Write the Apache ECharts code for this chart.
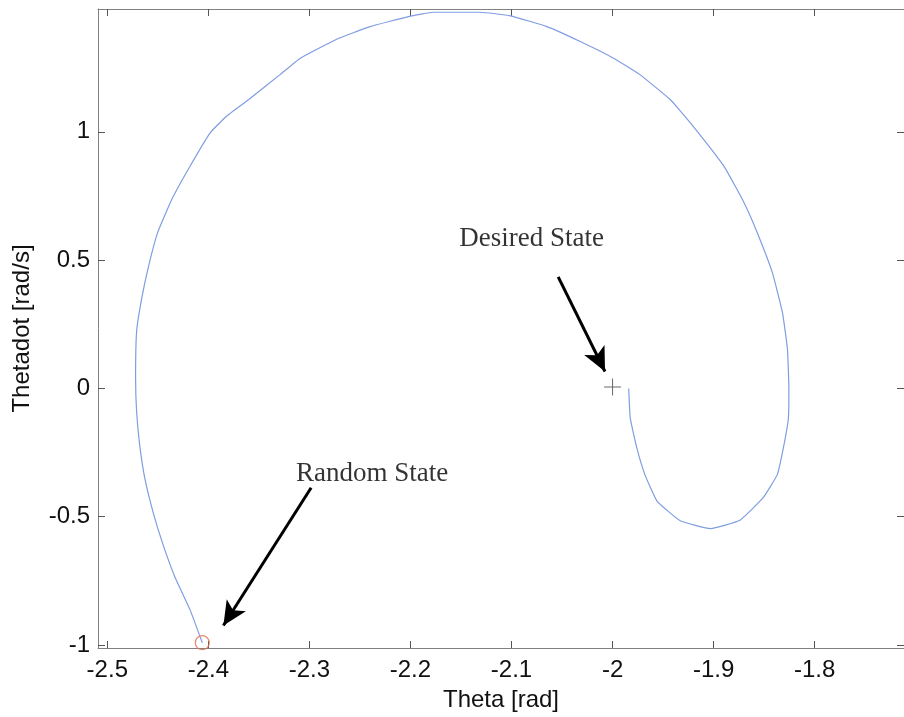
<!DOCTYPE html>
<html>
<head>
<meta charset="utf-8">
<script src="https://cdn.jsdelivr.net/npm/echarts@6/dist/echarts.min.js"></script>
<style>html,body{margin:0;padding:0;background:#fff}#c{width:904px;height:717px}</style>
</head>
<body>
<div id="c"></div>
<script>
// Trajectory (Theta [rad], Thetadot [rad/s])
const theta = [-2.406,-2.418,-2.433,-2.445,-2.455,-2.463,-2.468,-2.471,-2.472,-2.471,-2.466,-2.459,-2.450,-2.436,-2.418,-2.398,-2.382,-2.360,-2.329,-2.309,-2.273,-2.240,-2.202,-2.177,-2.131,-2.101,-2.065,-2.032,-1.999,-1.973,-1.943,-1.923,-1.890,-1.870,-1.857,-1.842,-1.832,-1.827,-1.8255,-1.826,-1.831,-1.837,-1.851,-1.874,-1.903,-1.933,-1.956,-1.968,-1.976,-1.9825,-1.984];
const thetadot = [-0.991,-0.864,-0.736,-0.607,-0.478,-0.348,-0.219,-0.090,0.040,0.221,0.350,0.479,0.609,0.738,0.867,0.997,1.061,1.126,1.223,1.287,1.361,1.410,1.449,1.466,1.466,1.452,1.410,1.352,1.287,1.223,1.126,1.035,0.867,0.725,0.609,0.453,0.298,0.156,0.001,-0.116,-0.232,-0.336,-0.426,-0.514,-0.546,-0.516,-0.439,-0.336,-0.232,-0.116,0.000];
const randomState = [-2.406, -0.991];
const desiredState = [-2.0, 0.006];
const xTicks = [-2.5,-2.4,-2.3,-2.2,-2.1,-2.0,-1.9,-1.8];
const yTicks = [-1,-0.5,0,0.5,1];
const xRange = [-2.5092, -1.7116];
const yRange = [-1.0116, 1.4787];
// annotations: label text, label position, arrow start, arrow end
const annoText = ['Desired State', 'Random State'];
const annoPos = [[-2.080, 0.582], [-2.238, -0.333]];
const arrowFrom = [[-2.0538, 0.435], [-2.2983, -0.387]];
const arrowTo = [[-2.0075, 0.066], [-2.3851, -0.924]];

const chart = echarts.init(document.getElementById('c'));
const fmt = v => {
  if (Math.abs(v) < 1e-9) return '0';
  return (Math.round(v * 10) / 10).toString();
};
const axisBase = {
  type: 'value',
  axisLine: { show: true, onZero: false, lineStyle: { color: '#808080', width: 1 } },
  splitLine: { show: false },
  axisTick: { show: true, inside: true, length: 7, lineStyle: { color: '#555', width: 1 } },
};
const trajData = theta.map((t, i) => [t, thetadot[i]]);
chart.setOption({
  animation: false,
  backgroundColor: '#ffffff',
  grid: { left: 98, top: 9, width: 807, height: 642 },
  xAxis: [
    Object.assign({}, axisBase, {
      min: xRange[0], max: xRange[1], position: 'bottom',
      name: 'Theta [rad]', nameLocation: 'middle', nameGap: 40,
      nameTextStyle: { fontFamily: 'Liberation Sans', fontSize: 24, color: '#111' },
      axisTick: Object.assign({}, axisBase.axisTick, { customValues: xTicks }),
      axisLabel: { customValues: xTicks, formatter: fmt, fontFamily: 'Liberation Sans', fontSize: 24, color: '#111', margin: 10 }
    }),
    Object.assign({}, axisBase, {
      min: xRange[0], max: xRange[1], position: 'top',
      axisTick: Object.assign({}, axisBase.axisTick, { customValues: xTicks }),
      axisLabel: { show: false }
    })
  ],
  yAxis: [
    Object.assign({}, axisBase, {
      min: yRange[0], max: yRange[1], position: 'left',
      name: 'Thetadot [rad/s]', nameLocation: 'middle', nameGap: 64, nameRotate: 90,
      nameTextStyle: { fontFamily: 'Liberation Sans', fontSize: 24, color: '#111' },
      axisTick: Object.assign({}, axisBase.axisTick, { customValues: yTicks }),
      axisLabel: { customValues: yTicks, formatter: fmt, fontFamily: 'Liberation Sans', fontSize: 24, color: '#111', margin: 8 }
    }),
    Object.assign({}, axisBase, {
      min: yRange[0], max: yRange[1], position: 'right',
      axisTick: Object.assign({}, axisBase.axisTick, { customValues: yTicks }),
      axisLabel: { show: false }
    })
  ],
  series: [
    {
      type: 'line', data: trajData, smooth: 0.12, symbol: 'none',
      lineStyle: { color: '#7f9de0', width: 1.2 }, z: 3
    },
    {
      type: 'scatter', data: [randomState], symbol: 'circle', symbolSize: 14,
      itemStyle: { color: 'rgba(0,0,0,0)', borderColor: '#e0704a', borderWidth: 1.2 }, z: 4
    },
    {
      type: 'scatter', data: [desiredState], symbol: 'path://M0,8H17V9H0Z M8,0H9V17H8Z', symbolSize: 17,
      itemStyle: { color: '#444' }, z: 4
    },
    {
      type: 'scatter', data: annoPos.map((p, i) => ({ value: p, name: annoText[i] })),
      symbolSize: 0,
      label: { show: true, position: 'inside', formatter: '{b}', fontFamily: 'Liberation Serif', fontSize: 27, color: '#000', textBorderWidth: 0 },
      markLine: {
        silent: true, symbol: ['none', 'arrow'], symbolSize: [17, 24],
        lineStyle: { color: '#000', width: 3, type: 'solid' },
        label: { show: false },
        data: arrowFrom.map((a, i) => [{ coord: a }, { coord: arrowTo[i] }])
      },
      z: 5
    }
  ]
});
</script>
</body>
</html>
